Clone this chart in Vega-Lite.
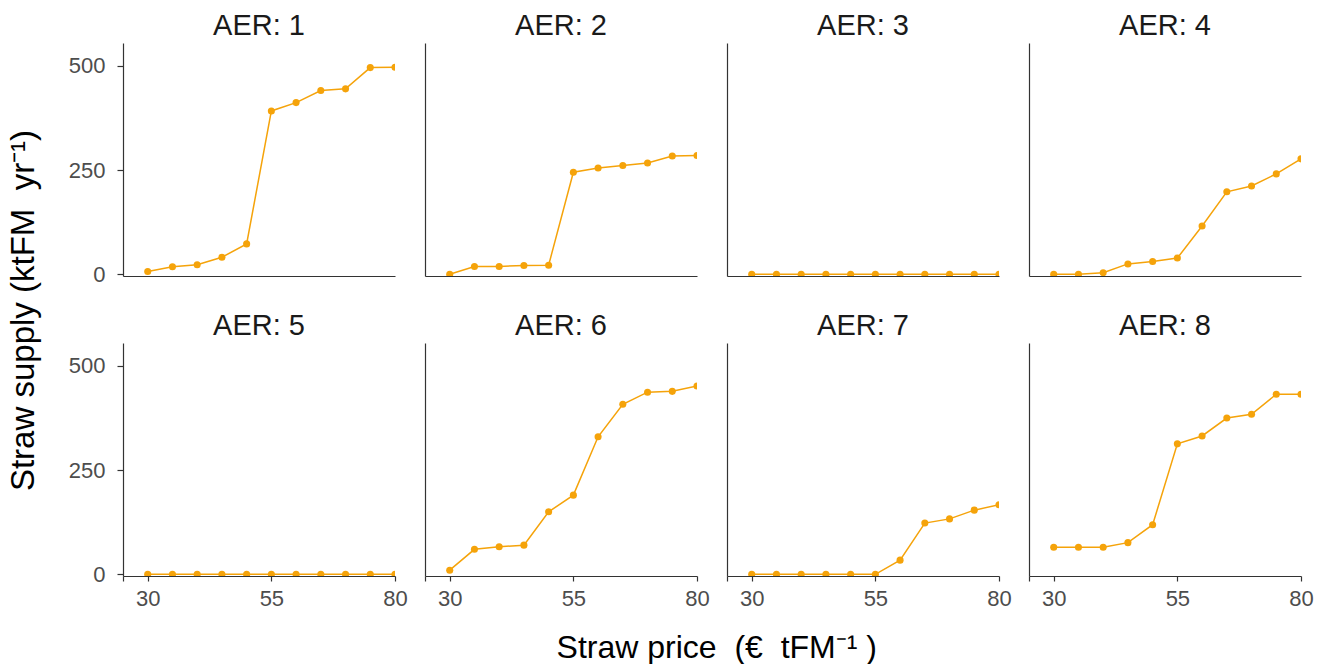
{
  "$schema": "https://vega.github.io/schema/vega-lite/v6.json",
  "background": "white",
  "padding": {"left": 8, "top": 12, "right": 10, "bottom": 0},
  "data": {"values": [
    {"AER": 1, "price": 30, "supply": 7}, {"AER": 1, "price": 35, "supply": 18}, {"AER": 1, "price": 40, "supply": 23}, {"AER": 1, "price": 45, "supply": 41}, {"AER": 1, "price": 50, "supply": 73}, {"AER": 1, "price": 55, "supply": 392}, {"AER": 1, "price": 60, "supply": 412}, {"AER": 1, "price": 65, "supply": 441}, {"AER": 1, "price": 70, "supply": 445}, {"AER": 1, "price": 75, "supply": 496}, {"AER": 1, "price": 80, "supply": 497},
    {"AER": 2, "price": 30, "supply": 0}, {"AER": 2, "price": 35, "supply": 19}, {"AER": 2, "price": 40, "supply": 19}, {"AER": 2, "price": 45, "supply": 21}, {"AER": 2, "price": 50, "supply": 22}, {"AER": 2, "price": 55, "supply": 245}, {"AER": 2, "price": 60, "supply": 255}, {"AER": 2, "price": 65, "supply": 261}, {"AER": 2, "price": 70, "supply": 267}, {"AER": 2, "price": 75, "supply": 284}, {"AER": 2, "price": 80, "supply": 285},
    {"AER": 3, "price": 30, "supply": 0}, {"AER": 3, "price": 35, "supply": 0}, {"AER": 3, "price": 40, "supply": 0}, {"AER": 3, "price": 45, "supply": 0}, {"AER": 3, "price": 50, "supply": 0}, {"AER": 3, "price": 55, "supply": 0}, {"AER": 3, "price": 60, "supply": 0}, {"AER": 3, "price": 65, "supply": 0}, {"AER": 3, "price": 70, "supply": 0}, {"AER": 3, "price": 75, "supply": 0}, {"AER": 3, "price": 80, "supply": 0},
    {"AER": 4, "price": 30, "supply": 0}, {"AER": 4, "price": 35, "supply": 0}, {"AER": 4, "price": 40, "supply": 4}, {"AER": 4, "price": 45, "supply": 25}, {"AER": 4, "price": 50, "supply": 31}, {"AER": 4, "price": 55, "supply": 39}, {"AER": 4, "price": 60, "supply": 116}, {"AER": 4, "price": 65, "supply": 198}, {"AER": 4, "price": 70, "supply": 212}, {"AER": 4, "price": 75, "supply": 241}, {"AER": 4, "price": 80, "supply": 277},
    {"AER": 5, "price": 30, "supply": 0}, {"AER": 5, "price": 35, "supply": 0}, {"AER": 5, "price": 40, "supply": 0}, {"AER": 5, "price": 45, "supply": 0}, {"AER": 5, "price": 50, "supply": 0}, {"AER": 5, "price": 55, "supply": 0}, {"AER": 5, "price": 60, "supply": 0}, {"AER": 5, "price": 65, "supply": 0}, {"AER": 5, "price": 70, "supply": 0}, {"AER": 5, "price": 75, "supply": 0}, {"AER": 5, "price": 80, "supply": 0},
    {"AER": 6, "price": 30, "supply": 10}, {"AER": 6, "price": 35, "supply": 60}, {"AER": 6, "price": 40, "supply": 66}, {"AER": 6, "price": 45, "supply": 70}, {"AER": 6, "price": 50, "supply": 150}, {"AER": 6, "price": 55, "supply": 190}, {"AER": 6, "price": 60, "supply": 330}, {"AER": 6, "price": 65, "supply": 408}, {"AER": 6, "price": 70, "supply": 437}, {"AER": 6, "price": 75, "supply": 439}, {"AER": 6, "price": 80, "supply": 452},
    {"AER": 7, "price": 30, "supply": 0}, {"AER": 7, "price": 35, "supply": 0}, {"AER": 7, "price": 40, "supply": 0}, {"AER": 7, "price": 45, "supply": 0}, {"AER": 7, "price": 50, "supply": 0}, {"AER": 7, "price": 55, "supply": 0}, {"AER": 7, "price": 60, "supply": 34}, {"AER": 7, "price": 65, "supply": 123}, {"AER": 7, "price": 70, "supply": 133}, {"AER": 7, "price": 75, "supply": 154}, {"AER": 7, "price": 80, "supply": 167},
    {"AER": 8, "price": 30, "supply": 65}, {"AER": 8, "price": 35, "supply": 65}, {"AER": 8, "price": 40, "supply": 65}, {"AER": 8, "price": 45, "supply": 76}, {"AER": 8, "price": 50, "supply": 119}, {"AER": 8, "price": 55, "supply": 313}, {"AER": 8, "price": 60, "supply": 332}, {"AER": 8, "price": 65, "supply": 375}, {"AER": 8, "price": 70, "supply": 384}, {"AER": 8, "price": 75, "supply": 432}, {"AER": 8, "price": 80, "supply": 432}
  ]},
  "title": {"text": "Straw price\u00a0 (€\u00a0 tFM⁻¹ )", "orient": "bottom", "anchor": "middle", "dx": 56, "fontSize": 32, "font": "Liberation Sans", "fontWeight": "normal", "color": "black", "offset": 24},
  "vconcat": [{
    "title": {"text": "Straw supply (ktFM\u00a0 yr⁻¹)", "orient": "left", "anchor": "middle", "fontSize": 33, "font": "Liberation Sans", "fontWeight": "normal", "color": "black", "offset": 27},
    "columns": 4,
    "bounds": "flush",
    "spacing": {"row": 67, "column": 30},
    "concat": [
      {"title": "AER: 1", "width": 272, "height": 233, "transform": [{"filter": "datum.AER == 1"}],
       "encoding": {
         "x": {"field": "price", "type": "quantitative", "scale": {"domain": [25, 80], "nice": false, "zero": false}, "axis": {"title": null, "labels": false, "ticks": false, "minExtent": 0}},
         "y": {"field": "supply", "type": "quantitative", "scale": {"domain": [-4, 555], "nice": false, "zero": false}, "axis": {"title": null, "values": [0, 250, 500], "tickSize": 6, "labelPadding": 12}}},
       "layer": [{"mark": {"type": "line", "color": "#F5A30A", "strokeWidth": 1.5, "clip": true}}, {"mark": {"type": "point", "filled": true, "size": 50, "opacity": 1, "color": "#F5A30A", "clip": true}}]},
      {"title": "AER: 2", "width": 272, "height": 233, "transform": [{"filter": "datum.AER == 2"}],
       "encoding": {
         "x": {"field": "price", "type": "quantitative", "scale": {"domain": [25, 80], "nice": false, "zero": false}, "axis": {"title": null, "labels": false, "ticks": false, "minExtent": 0}},
         "y": {"field": "supply", "type": "quantitative", "scale": {"domain": [-4, 555], "nice": false, "zero": false}, "axis": {"title": null, "labels": false, "ticks": false, "minExtent": 0}}},
       "layer": [{"mark": {"type": "line", "color": "#F5A30A", "strokeWidth": 1.5, "clip": true}}, {"mark": {"type": "point", "filled": true, "size": 50, "opacity": 1, "color": "#F5A30A", "clip": true}}]},
      {"title": "AER: 3", "width": 272, "height": 233, "transform": [{"filter": "datum.AER == 3"}],
       "encoding": {
         "x": {"field": "price", "type": "quantitative", "scale": {"domain": [25, 80], "nice": false, "zero": false}, "axis": {"title": null, "labels": false, "ticks": false, "minExtent": 0}},
         "y": {"field": "supply", "type": "quantitative", "scale": {"domain": [-4, 555], "nice": false, "zero": false}, "axis": {"title": null, "labels": false, "ticks": false, "minExtent": 0}}},
       "layer": [{"mark": {"type": "line", "color": "#F5A30A", "strokeWidth": 1.5, "clip": true}}, {"mark": {"type": "point", "filled": true, "size": 50, "opacity": 1, "color": "#F5A30A", "clip": true}}]},
      {"title": "AER: 4", "width": 272, "height": 233, "transform": [{"filter": "datum.AER == 4"}],
       "encoding": {
         "x": {"field": "price", "type": "quantitative", "scale": {"domain": [25, 80], "nice": false, "zero": false}, "axis": {"title": null, "labels": false, "ticks": false, "minExtent": 0}},
         "y": {"field": "supply", "type": "quantitative", "scale": {"domain": [-4, 555], "nice": false, "zero": false}, "axis": {"title": null, "labels": false, "ticks": false, "minExtent": 0}}},
       "layer": [{"mark": {"type": "line", "color": "#F5A30A", "strokeWidth": 1.5, "clip": true}}, {"mark": {"type": "point", "filled": true, "size": 50, "opacity": 1, "color": "#F5A30A", "clip": true}}]},
      {"title": "AER: 5", "width": 272, "height": 233, "transform": [{"filter": "datum.AER == 5"}],
       "encoding": {
         "x": {"field": "price", "type": "quantitative", "scale": {"domain": [25, 80], "nice": false, "zero": false}, "axis": {"title": null, "values": [25, 30, 55, 80], "labelExpr": "datum.value == 25 ? '' : datum.label"}},
         "y": {"field": "supply", "type": "quantitative", "scale": {"domain": [-4, 555], "nice": false, "zero": false}, "axis": {"title": null, "values": [0, 250, 500], "tickSize": 6, "labelPadding": 12}}},
       "layer": [{"mark": {"type": "line", "color": "#F5A30A", "strokeWidth": 1.5, "clip": true}}, {"mark": {"type": "point", "filled": true, "size": 50, "opacity": 1, "color": "#F5A30A", "clip": true}}]},
      {"title": "AER: 6", "width": 272, "height": 233, "transform": [{"filter": "datum.AER == 6"}],
       "encoding": {
         "x": {"field": "price", "type": "quantitative", "scale": {"domain": [25, 80], "nice": false, "zero": false}, "axis": {"title": null, "values": [25, 30, 55, 80], "labelExpr": "datum.value == 25 ? '' : datum.label"}},
         "y": {"field": "supply", "type": "quantitative", "scale": {"domain": [-4, 555], "nice": false, "zero": false}, "axis": {"title": null, "labels": false, "ticks": false, "minExtent": 0}}},
       "layer": [{"mark": {"type": "line", "color": "#F5A30A", "strokeWidth": 1.5, "clip": true}}, {"mark": {"type": "point", "filled": true, "size": 50, "opacity": 1, "color": "#F5A30A", "clip": true}}]},
      {"title": "AER: 7", "width": 272, "height": 233, "transform": [{"filter": "datum.AER == 7"}],
       "encoding": {
         "x": {"field": "price", "type": "quantitative", "scale": {"domain": [25, 80], "nice": false, "zero": false}, "axis": {"title": null, "values": [25, 30, 55, 80], "labelExpr": "datum.value == 25 ? '' : datum.label"}},
         "y": {"field": "supply", "type": "quantitative", "scale": {"domain": [-4, 555], "nice": false, "zero": false}, "axis": {"title": null, "labels": false, "ticks": false, "minExtent": 0}}},
       "layer": [{"mark": {"type": "line", "color": "#F5A30A", "strokeWidth": 1.5, "clip": true}}, {"mark": {"type": "point", "filled": true, "size": 50, "opacity": 1, "color": "#F5A30A", "clip": true}}]},
      {"title": "AER: 8", "width": 272, "height": 233, "transform": [{"filter": "datum.AER == 8"}],
       "encoding": {
         "x": {"field": "price", "type": "quantitative", "scale": {"domain": [25, 80], "nice": false, "zero": false}, "axis": {"title": null, "values": [25, 30, 55, 80], "labelExpr": "datum.value == 25 ? '' : datum.label"}},
         "y": {"field": "supply", "type": "quantitative", "scale": {"domain": [-4, 555], "nice": false, "zero": false}, "axis": {"title": null, "labels": false, "ticks": false, "minExtent": 0}}},
       "layer": [{"mark": {"type": "line", "color": "#F5A30A", "strokeWidth": 1.5, "clip": true}}, {"mark": {"type": "point", "filled": true, "size": 50, "opacity": 1, "color": "#F5A30A", "clip": true}}]}
    ]
  }],
  "config": {
    "view": {"stroke": null},
    "font": "Liberation Sans",
    "title": {"fontSize": 29, "fontWeight": "normal", "color": "#1a1a1a", "font": "Liberation Sans", "offset": 2, "anchor": "middle"},
    "axis": {"grid": false, "domainColor": "#333333", "domainWidth": 1.2, "tickColor": "#333333", "tickWidth": 1.2, "tickSize": 5, "labelColor": "#4d4d4d", "labelFont": "Liberation Sans", "labelFontSize": 22, "labelFlush": false, "labelOverlap": false, "labelPadding": 7}
  }
}
